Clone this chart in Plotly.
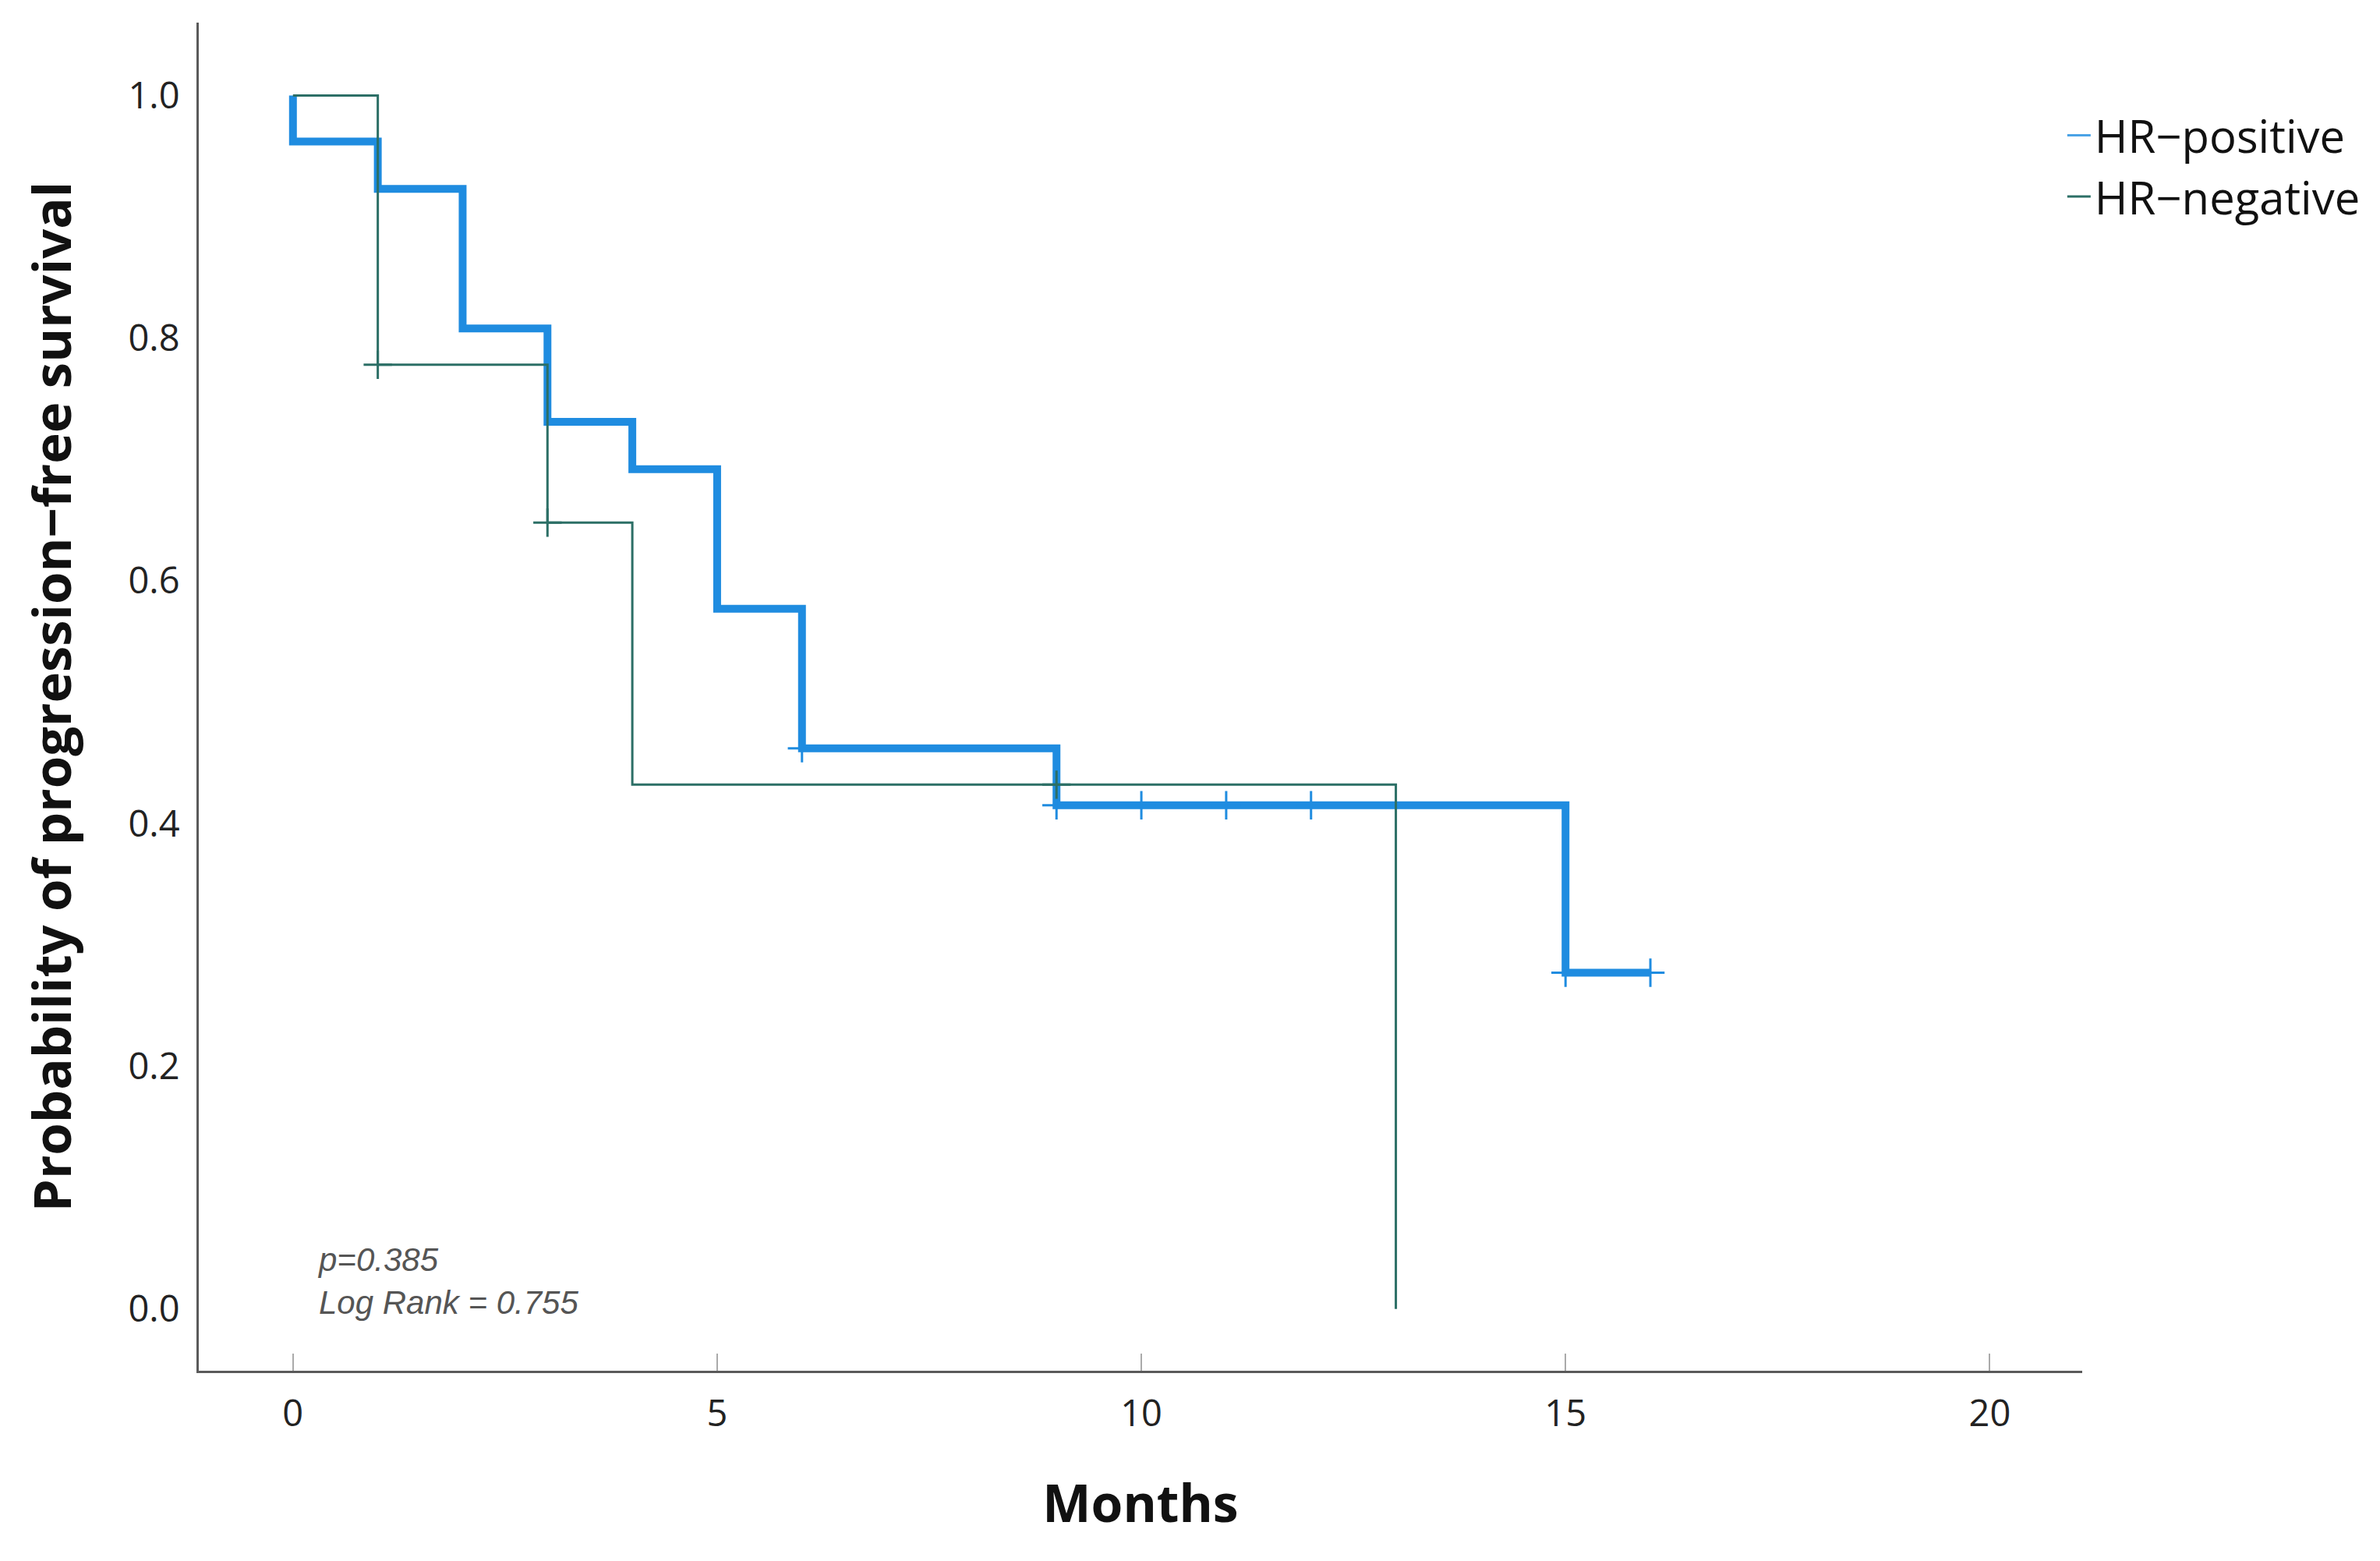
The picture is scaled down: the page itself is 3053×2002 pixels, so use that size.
import plotly.graph_objects as go

# Kaplan-Meier steps (months, survival probability)
pos_time = [0, 0, 1, 2, 3, 4, 5, 6, 9, 15, 16]
pos_surv = [1.0, 0.962, 0.923, 0.808, 0.731, 0.692, 0.577, 0.462, 0.415, 0.277, 0.277]
pos_cens_time = [6, 9, 10, 11, 12, 15, 16]
pos_cens_surv = [0.462, 0.415, 0.415, 0.415, 0.415, 0.277, 0.277]

neg_time = [0, 1, 3, 4, 13]
neg_surv = [1.0, 0.778, 0.648, 0.432, 0.0]
neg_cens_time = [1, 3, 9]
neg_cens_surv = [0.778, 0.648, 0.432]

x_ticks = [0, 5, 10, 15, 20]
y_ticks = [0.0, 0.2, 0.4, 0.6, 0.8, 1.0]

BLUE = "#1f8ce0"
GREEN = "#2c6f66"


def main():
    fig = go.Figure()

    fig.add_trace(go.Scatter(
        x=pos_time, y=pos_surv, mode="lines", line_shape="hv",
        line=dict(color=BLUE, width=10), showlegend=False,
    ))
    fig.add_trace(go.Scatter(
        x=pos_cens_time, y=pos_cens_surv, mode="markers",
        marker=dict(symbol="cross-thin", size=26, line=dict(color=BLUE, width=3)),
        showlegend=False,
    ))
    fig.add_trace(go.Scatter(
        x=neg_time, y=neg_surv, mode="lines", line_shape="hv",
        line=dict(color=GREEN, width=3), showlegend=False,
    ))
    fig.add_trace(go.Scatter(
        x=neg_cens_time, y=neg_cens_surv, mode="markers",
        marker=dict(symbol="cross-thin", size=26, line=dict(color=GREEN, width=3)),
        showlegend=False,
    ))

    # legend entries with thin glyphs, like the original key
    fig.add_trace(go.Scatter(x=[None], y=[None], mode="lines", name="HR\u2212positive",
                             line=dict(color="#4aa3e6", width=3)))
    fig.add_trace(go.Scatter(x=[None], y=[None], mode="lines", name="HR\u2212negative",
                             line=dict(color=GREEN, width=3)))

    fig.add_annotation(
        x=0.27, y=0.023, xref="x", yref="y", xanchor="left", yanchor="middle",
        text="<i>p=0.385<br>Log Rank = 0.755</i>", showarrow=False, align="left",
        font=dict(family="Liberation Sans", size=42, color="#555555"),
    )

    fig.update_layout(
        width=3037, height=1986,
        margin=dict(l=247, r=374, t=21, b=236),
        paper_bgcolor="white", plot_bgcolor="white",
        font=dict(family="Open Sans", color="#222222"),
        legend=dict(
            x=0.99, y=0.942, xanchor="left", yanchor="top",
            font=dict(family="Open Sans", size=58, color="#111111"),
            bgcolor="rgba(0,0,0,0)", tracegroupgap=0,
        ),
    )
    fig.update_xaxes(
        range=[-1.11, 21.09], tickvals=x_ticks, showgrid=False, zeroline=False,
        showline=True, linecolor="#5a5a5a", linewidth=3,
        ticks="inside", ticklen=22, tickwidth=2, tickcolor="#aaaaaa",
        ticklabelstandoff=12,
        tickfont=dict(family="Open Sans", size=47, color="#222222"),
        title=dict(text="<b>Months</b>", font=dict(family="Open Sans", size=66, color="#111111"), standoff=64),
    )
    fig.update_yaxes(
        range=[-0.051, 1.06], tickvals=y_ticks, tickformat=".1f", showgrid=False, zeroline=False,
        showline=True, linecolor="#5a5a5a", linewidth=3, ticks="",
        ticklabelstandoff=12,
        tickfont=dict(family="Open Sans", size=47, color="#222222"),
        title=dict(text="<b>Probability of progression\u2212free survival</b>",
                   font=dict(family="Open Sans", size=67, color="#111111"), standoff=52),
    )

    fig.write_html("out.html")


if __name__ == "__main__":
    main()
